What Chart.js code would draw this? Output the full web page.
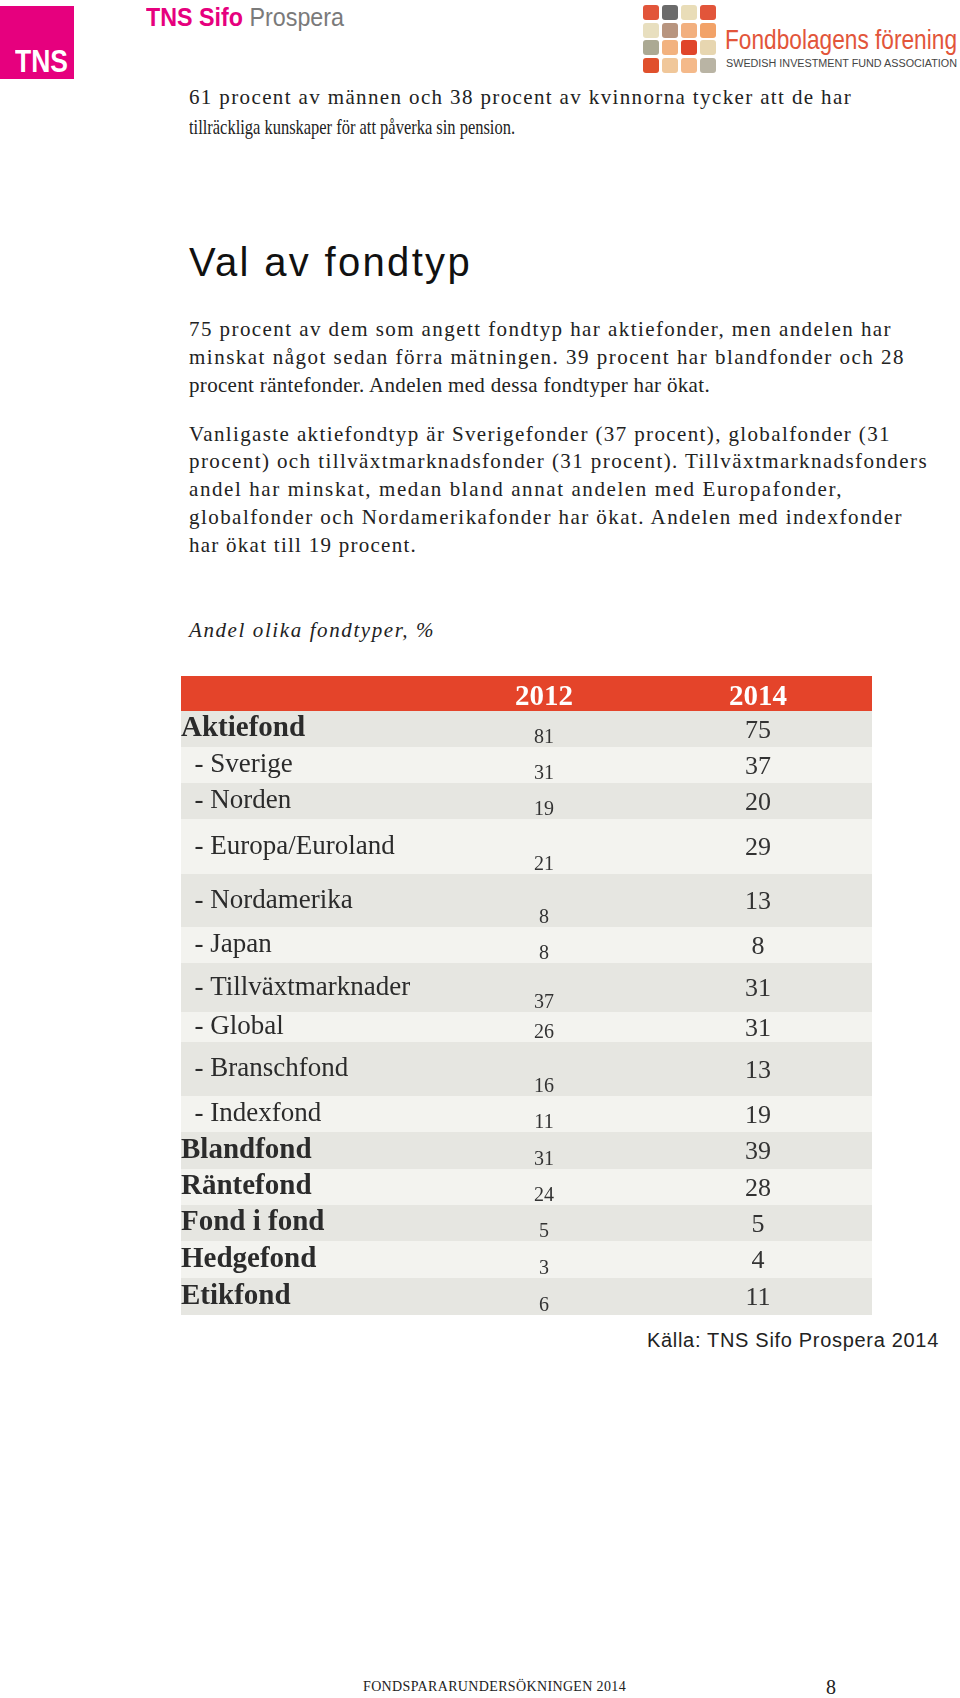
<!DOCTYPE html>
<html>
<head>
<meta charset="utf-8">
<script src="https://cdn.jsdelivr.net/npm/chart.js@4.4.1/dist/chart.umd.min.js"></script>
<style>
html, body { margin: 0; padding: 0; background: #fff; }
body { width: 960px; height: 1698px; position: relative; overflow: hidden; font-family: "Liberation Serif", serif; color: #222; }
.t { position: absolute; white-space: nowrap; }
.p { font-size: 21px; line-height: 28px; }
.h { font-family: "Liberation Sans", sans-serif; font-size: 40px; line-height: 48px; color: #111; }
.cap { font-style: italic; font-size: 21px; line-height: 28px; }
.src { font-family: "Liberation Sans", sans-serif; font-size: 20px; line-height: 28px; }
.foot { font-size: 14px; line-height: 20px; }
.tnsbox { position: absolute; left: 0; top: 6px; width: 74px; height: 73px; background: #e6007e; }
.sq { position: absolute; width: 16px; height: 15px; border-radius: 3px; }
#tableBox { position: absolute; left: 181px; top: 676px; width: 691px; height: 639px; }
</style>
</head>
<body>

<!-- logos -->
<div class="tnsbox"></div>
<div class="t" data-r="68" data-mode="scale" style="left:15px;top:45px;font-family:'Liberation Sans';font-weight:bold;font-size:31px;line-height:34px;color:#fff;">TNS</div>
<div class="t" data-r="344" data-mode="scale" style="left:146px;top:3px;font-family:'Liberation Sans';font-size:25px;line-height:28px;"><span style="color:#e6007e;font-weight:bold;">TNS Sifo</span> <span style="color:#7a7a7a;">Prospera</span></div>

<div id="grid"></div>
<div class="t" data-r="957" data-mode="scale" style="left:725px;top:24px;font-family:'Liberation Sans';font-size:28px;line-height:32px;color:#e2553a;">Fondbolagens förening</div>
<div class="t" data-r="957" data-mode="scale" style="left:726px;top:57px;font-family:'Liberation Sans';font-size:10px;line-height:14px;color:#444;">SWEDISH INVESTMENT FUND ASSOCIATION</div>

<!-- text -->
<div class="t p" data-r="852" style="left:189px;top:83px;">61 procent av männen och 38 procent av kvinnorna tycker att de har</div>
<div class="t p" data-r="515" style="left:189px;top:113px;">tillräckliga kunskaper för att påverka sin pension.</div>

<div class="t h" data-r="472" style="left:189px;top:238px;">Val av fondtyp</div>

<div class="t p" data-r="892" style="left:189px;top:315px;">75 procent av dem som angett fondtyp har aktiefonder, men andelen har</div>
<div class="t p" data-r="905" style="left:189px;top:343px;">minskat något sedan förra mätningen. 39 procent har blandfonder och 28</div>
<div class="t p" data-r="710" style="left:189px;top:371px;">procent räntefonder. Andelen med dessa fondtyper har ökat.</div>

<div class="t p" data-r="891" style="left:189px;top:420px;">Vanligaste aktiefondtyp är Sverigefonder (37 procent), globalfonder (31</div>
<div class="t p" data-r="928" style="left:189px;top:447px;">procent) och tillväxtmarknadsfonder (31 procent). Tillväxtmarknadsfonders</div>
<div class="t p" data-r="843" style="left:189px;top:475px;">andel har minskat, medan bland annat andelen med Europafonder,</div>
<div class="t p" data-r="903" style="left:189px;top:503px;">globalfonder och Nordamerikafonder har ökat. Andelen med indexfonder</div>
<div class="t p" data-r="417" style="left:189px;top:531px;">har ökat till 19 procent.</div>

<div class="t cap" data-r="435" style="left:189px;top:616px;">Andel olika fondtyper, %</div>

<div id="tableBox"><canvas id="tbl" width="691" height="639"></canvas></div>

<div class="t src" data-r="939" style="left:647px;top:1326px;">Källa: TNS Sifo Prospera 2014</div>

<div class="t foot" data-r="626" style="left:363px;top:1677px;">FONDSPARARUNDERSÖKNINGEN 2014</div>
<div class="t" style="left:826px;top:1675px;font-size:20px;line-height:24px;">8</div>

<script>
// table data
const categories = ['Aktiefond', '- Sverige', '- Norden', '- Europa/Euroland', '- Nordamerika', '- Japan',
  '- Tillväxtmarknader', '- Global', '- Branschfond', '- Indexfond',
  'Blandfond', 'Räntefond', 'Fond i fond', 'Hedgefond', 'Etikfond'];
const years = ['2012', '2014'];
const values2012 = [81, 31, 19, 21, 8, 8, 37, 26, 16, 11, 31, 24, 5, 3, 6];
const values2014 = [75, 37, 20, 29, 13, 8, 31, 31, 13, 19, 39, 28, 5, 4, 11];
const mainRows = ['Aktiefond', 'Blandfond', 'Räntefond', 'Fond i fond', 'Hedgefond', 'Etikfond'];

// layout only: height of each table row (px)
const rowHeights = [36, 36, 36, 55, 53, 36, 49, 30, 54, 36, 37, 36, 36, 37, 37];

const headerColor = '#e4442a';
const darkRow = '#e6e6e1';
const lightRow = '#f3f3ef';

// logo squares
const squareColors = [
  ['#e2553a', '#6b6b6b', '#e9ddb8', '#e2553a'],
  ['#e8dfbf', '#b8957f', '#f2b07f', '#f2a268'],
  ['#aba993', '#f2b27f', '#e0452a', '#e7d6b0'],
  ['#e0502c', '#f0c79a', '#f4b98a', '#b9b4a4']
];
const grid = document.getElementById('grid');
squareColors.forEach((row, r) => {
  row.forEach((c, k) => {
    const d = document.createElement('div');
    d.className = 'sq';
    d.style.left = (643 + k * 19) + 'px';
    d.style.top = (5 + r * 17.5) + 'px';
    d.style.background = c;
    grid.appendChild(d);
  });
});

// stretch (or squeeze) text lines to their right edge
document.querySelectorAll('[data-r]').forEach(el => {
  const left = parseFloat(el.style.left);
  const target = parseFloat(el.dataset.r) - left;
  const natural = el.getBoundingClientRect().width;
  if (el.dataset.mode === 'scale' || natural > target) {
    el.style.transformOrigin = 'left center';
    el.style.transform = 'scaleX(' + (target / natural) + ')';
  } else {
    const n = el.textContent.length;
    el.style.letterSpacing = ((target - natural) / n) + 'px';
  }
});

const rowStart = [], rowEnd = [], rowMid = [];
let acc = 0;
rowHeights.forEach(h => {
  rowStart.push(acc);
  acc += h;
  rowEnd.push(acc);
  rowMid.push(acc - h / 2);
});
const total = acc;

const tablePlugin = {
  id: 'table',
  beforeDraw(chart) {
    const ctx = chart.ctx;
    const y = chart.scales.y;
    ctx.save();
    ctx.fillStyle = headerColor;
    ctx.fillRect(0, 0, chart.width, chart.chartArea.top);
    rowStart.forEach((s, i) => {
      const top = Math.round(y.getPixelForValue(s));
      const bot = Math.round(y.getPixelForValue(rowEnd[i]));
      ctx.fillStyle = i % 2 ? lightRow : darkRow;
      ctx.fillRect(0, top, chart.width, bot - top);
    });
    ctx.restore();
  },
  afterDatasetsDraw(chart) {
    const ctx = chart.ctx;
    const y = chart.scales.y;
    ctx.save();
    ctx.textAlign = 'center';
    ctx.fillStyle = '#333';
    chart.data.datasets.forEach((ds, k) => {
      chart.getDatasetMeta(k).data.forEach((pt, i) => {
        const v = ds.data[i].v;
        if (k === 0) {
          ctx.font = '20px "Liberation Serif"';
          ctx.textBaseline = 'alphabetic';
          ctx.fillText(v, pt.x, y.getPixelForValue(rowEnd[i]) - 4);
        } else {
          ctx.font = '26px "Liberation Serif"';
          ctx.textBaseline = 'middle';
          ctx.fillText(v, pt.x, pt.y + 2);
        }
      });
    });
    ctx.restore();
  }
};

new Chart(document.getElementById('tbl'), {
  type: 'line',
  data: {
    labels: years,
    datasets: years.map((yr, k) => ({
      label: yr,
      data: categories.map((c, i) => ({ x: yr, y: rowMid[i], v: (k ? values2014 : values2012)[i] })),
      showLine: false,
      pointRadius: 0,
      pointHoverRadius: 0
    }))
  },
  options: {
    responsive: false,
    animation: false,
    events: [],
    layout: { padding: { left: 0, right: 7, top: 0, bottom: 0 } },
    plugins: { legend: { display: false }, tooltip: { enabled: false } },
    scales: {
      x: {
        type: 'category',
        position: 'top',
        offset: true,
        grid: { display: false, drawTicks: false },
        border: { display: false },
        ticks: { color: '#fff', padding: -4, font: { family: 'Liberation Serif', size: 29, weight: 'bold', lineHeight: 1.2 } },
        afterFit(s) { s.height = 35; s.paddingLeft = 0; s.paddingRight = 0; }
      },
      y: {
        type: 'linear',
        min: 0,
        max: total,
        reverse: true,
        grid: { display: false, drawTicks: false },
        border: { display: false },
        afterBuildTicks(s) { s.ticks = rowMid.map(v => ({ value: v })); },
        afterFit(s) { s.width = 256; s.paddingTop = 0; s.paddingBottom = 0; },
        ticks: {
          autoSkip: false,
          crossAlign: 'far',
          padding: 0,
          color: '#2b2b2b',
          callback: (v, i) => mainRows.includes(categories[i]) ? categories[i] : '  ' + categories[i],
          font: c => mainRows.includes(categories[c.index])
            ? { family: 'Liberation Serif', size: 29, weight: 'bold' }
            : { family: 'Liberation Serif', size: 27 }
        }
      }
    }
  },
  plugins: [tablePlugin]
});
</script>
</body>
</html>
